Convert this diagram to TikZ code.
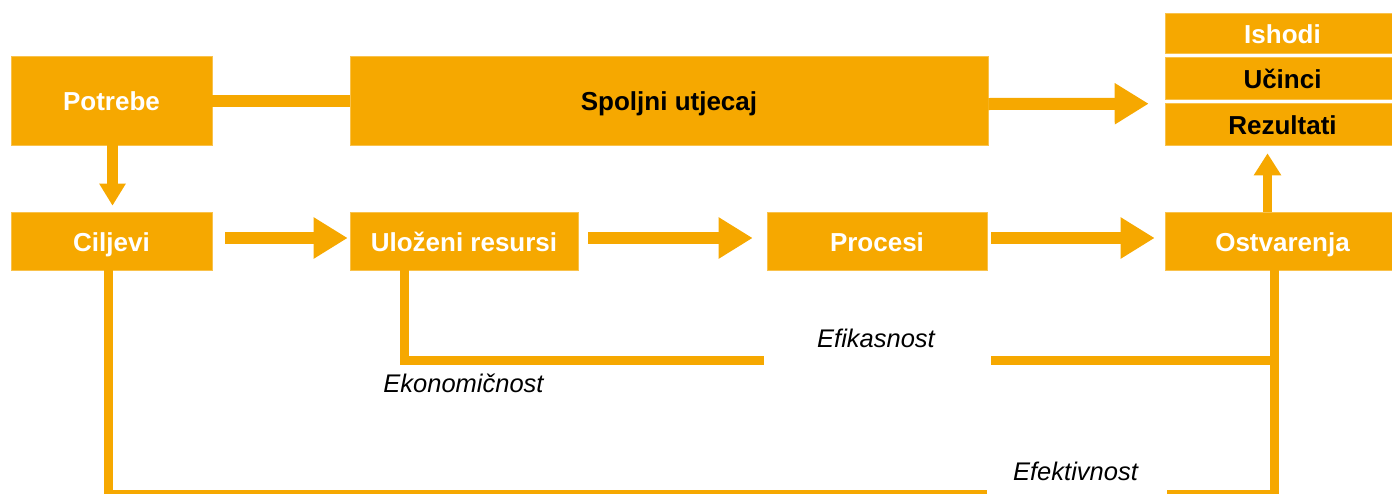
\documentclass[tikz,border=0pt]{standalone}
\usepackage{fontspec}
\setmainfont{Liberation Sans}
\usetikzlibrary{arrows.meta}
\definecolor{orng}{RGB}{246,168,0}
\begin{document}
\begin{tikzpicture}[x=1pt,y=-1pt,
  box/.style={fill=orng, draw=orng!70!white, line width=0.6pt, inner sep=0pt,
    text height=20pt, text depth=0pt, font=\fontsize{26}{31}\selectfont\bfseries},
  wt/.style={text=white},
  bk/.style={text=black},
  barrow/.style={draw=orng, line width=12pt, -{Triangle[length=34pt,width=39pt]}},
  varrow/.style={draw=orng, line width=11pt, -{Triangle[length=22pt,width=25pt]}},
  bar/.style={draw=orng, line width=12pt},
  link/.style={draw=orng, line width=9pt, line join=miter},
  lbl/.style={font=\fontsize{25.5}{30}\selectfont\itshape, anchor=base, inner sep=0pt}]
\useasboundingbox (0,0) rectangle (1392,493);

% boxes
\node[box,wt,minimum width=201pt,minimum height=89pt] (pot) at (111.5,100.5) {Potrebe};
\node[box,bk,minimum width=638pt,minimum height=89pt] (spo) at (669,100.5) {Spoljni utjecaj};
\node[box,wt,minimum width=235pt,minimum height=40pt] (ish) at (1282.5,33) {Ishodi};
\node[box,bk,minimum width=235pt,minimum height=42pt] (uci) at (1282.5,78) {Učinci};
\node[box,bk,minimum width=235pt,minimum height=42pt] (rez) at (1282.5,124) {Rezultati};
\node[box,wt,minimum width=201pt,minimum height=58pt] (cil) at (111.5,241) {Ciljevi};
\node[box,wt,minimum width=228pt,minimum height=58pt] (ulo) at (464,241) {Uloženi resursi};
\node[box,wt,minimum width=220pt,minimum height=58pt] (pro) at (877,241) {Procesi};
\node[box,wt,minimum width=235pt,minimum height=58pt] (ost) at (1282.5,241) {Ostvarenja};

% connectors
\draw[bar] (pot.east) -- (spo.west);
\draw[barrow] ([yshift=-3.5pt]spo.east) -- ([xshift=-16pt,yshift=-1pt]rez.north west);
\draw[varrow] ([xshift=1pt]pot.south) -- ([xshift=1pt,yshift=6pt]cil.north);
\draw[barrow] ([xshift=13pt,yshift=3pt]cil.east) -- ([xshift=-2pt,yshift=3pt]ulo.west);
\draw[barrow] ([xshift=10pt,yshift=3pt]ulo.east) -- ([xshift=-14pt,yshift=3pt]pro.west);
\draw[barrow] ([xshift=4pt,yshift=3pt]pro.east) -- ([xshift=-10pt,yshift=3pt]ost.west);
\draw[draw=orng, line width=9pt, -{Triangle[length=22pt,width=26pt]}]
  ([xshift=-15pt]ost.north) -- ([xshift=-15pt,yshift=-8pt]rez.south);

% measurement lines
\coordinate (ekoend) at (764,360);
\coordinate (efistart) at (991,360);
\coordinate (efeend) at (987,494);
\coordinate (eferstart) at (1167,494);
\draw[link] ([xshift=-60pt]ulo.south) |- (ekoend);
\draw[link] (efistart) -| ([xshift=-8.5pt]ost.south);
\draw[link] ([xshift=-3.5pt]cil.south) |- (efeend);
\draw[link] (eferstart) -| ([xshift=-8.5pt]ost.south);

% labels
\node[lbl] (leko) at (463.5,392) {Ekonomičnost};
\node[lbl] (lefi) at (876,347) {Efikasnost};
\node[lbl] (lefe) at (1075.5,480) {Efektivnost};
\end{tikzpicture}
\end{document}
